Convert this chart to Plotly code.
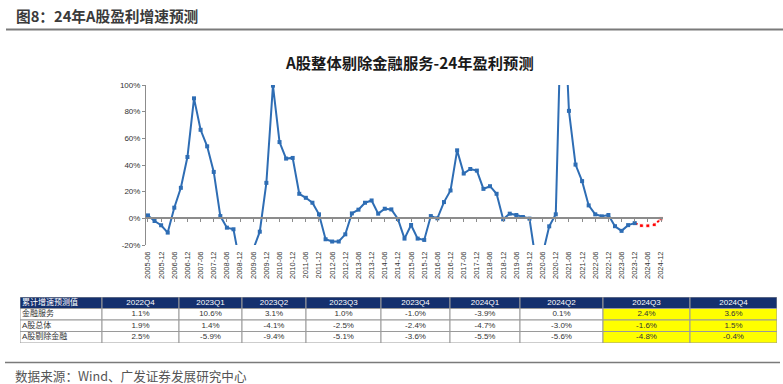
import plotly.graph_objects as go

# ---------------- data ----------------
dates = []
for y in range(2005, 2025):
    for m in ("03", "06", "09", "12"):
        d = f"{y}-{m}"
        if d >= "2005-06":
            dates.append(d)

# A股整体剔除金融服务 cumulative profit growth (%), actual through 2023-12
actual_values = [
    2.2, -2.0, -5.2, -10.7, 8.0, 22.9, 46.0, 90.0, 66.4, 54.0, 34.8, 1.7,
    -7.0, -8.2, -34.4, -40.0, -23.3, -10.0, 26.6, 99.5, 57.2, 44.8, 45.3, 18.4,
    15.4, 11.7, 3.0, -15.7, -17.4, -17.4, -12.0, 3.7, 6.5, 11.7, 13.4, 3.5,
    7.2, 6.7, -0.5, -15.2, -5.0, -15.2, -16.2, 1.7, 0.0, 12.2, 20.9, 51.0,
    33.6, 37.0, 35.8, 22.1, 24.1, 18.4, -0.7, 3.5, 2.5, 1.0, -0.2, -33.0,
    -27.0, -6.0, 3.0, 190.0, 80.6, 40.3, 27.9, 9.7, 3.0, 1.5, 2.5, -5.9,
    -9.4, -5.1, -3.6,
]
# forecast 2024-03 .. 2024-12
forecast_values = [-5.5, -5.6, -4.8, -0.4]

y_ticks = [-20, 0, 20, 40, 60, 80, 100]

table_header = ["累计增速预测值", "2022Q4", "2023Q1", "2023Q2", "2023Q3", "2023Q4",
                "2024Q1", "2024Q2", "2024Q3", "2024Q4"]
row_labels = ["金融服务", "A股总体", "A股剔除金融"]
fin_services = ["1.1%", "10.6%", "3.1%", "1.0%", "-1.0%", "-3.9%", "0.1%", "2.4%", "3.6%"]
a_total = ["1.9%", "1.4%", "-4.1%", "-2.5%", "-2.4%", "-4.7%", "-3.0%", "-1.6%", "1.5%"]
a_ex_fin = ["2.5%", "-5.9%", "-9.4%", "-5.1%", "-3.6%", "-5.5%", "-5.6%", "-4.8%", "-0.4%"]
forecast_cols = ["2024Q3", "2024Q4"]

# ---------------- layout helpers ----------------
W, H = 783, 384
def px(x):
    return x / W
def py(y):
    return (H - y) / H

x_idx = list(range(len(dates)))
n_act = len(actual_values)

BLUE = "#2E6DB4"
RED = "#FF0000"
FONT_LAT = "Arial, 'Liberation Sans', 'Noto Sans CJK SC', sans-serif"
FONT_CJK = "'Noto Sans CJK SC', sans-serif"

fig = go.Figure()

fig.add_trace(go.Scatter(
    x=x_idx[n_act - 1:], y=[actual_values[-1]] + forecast_values,
    mode="lines+markers",
    line=dict(color=RED, width=2, dash="dot"),
    marker=dict(symbol="square", size=[0] + [4] * len(forecast_values), color=RED),
    hoverinfo="skip",
))
fig.add_trace(go.Scatter(
    x=x_idx[:n_act], y=actual_values,
    mode="lines+markers",
    line=dict(color=BLUE, width=2),
    marker=dict(symbol="square", size=4, color=BLUE),
    hoverinfo="skip",
))
# invisible trace to hold the zero-line axis
fig.add_trace(go.Scatter(x=[x_idx[0]], y=[0], xaxis="x2", mode="markers",
                         marker=dict(size=0, opacity=0), hoverinfo="skip"))

y_dom = [139 / H, 299 / H]
zero_pos = y_dom[0] + (0 - y_ticks[0]) / (y_ticks[-1] - y_ticks[0]) * (y_dom[1] - y_dom[0])
x_rng = [-0.3, len(dates) - 1 + 0.3]

# ---------------- table (own axes x3/y3: x in px units, y in rows) ----------------
col_widths = [82, 77, 63, 64, 75, 69, 70, 83, 87, 87]
edges = [0]
for w_ in col_widths:
    edges.append(edges[-1] + w_)
n_rows = 1 + len(row_labels)
body_cols = [[fin_services[i], a_total[i], a_ex_fin[i]] for i in range(len(fin_services))]

GRID = "#9a9a9a"
NAVY = "#14306E"
for c in range(len(table_header)):
    for r in range(n_rows):
        if r == 0:
            fill = NAVY
        elif table_header[c] in forecast_cols:
            fill = "#FFFF00"
        else:
            fill = "white"
        fig.add_shape(type="rect", xref="x3", yref="y3",
                      x0=edges[c], x1=edges[c + 1], y0=r, y1=r + 1,
                      fillcolor=fill, line=dict(color=GRID, width=1), layer="below")

# centered texts
cx, cy, ct, cc = [], [], [], []
for c in range(1, len(table_header)):
    mid = (edges[c] + edges[c + 1]) / 2
    cx.append(mid); cy.append(0.5); ct.append(table_header[c]); cc.append("white")
    for r, v in enumerate(body_cols[c - 1]):
        cx.append(mid); cy.append(r + 1.5); ct.append(v); cc.append("#333333")
fig.add_trace(go.Scatter(x=cx, y=cy, text=ct, mode="text", xaxis="x3", yaxis="y3",
                         textposition="middle center", cliponaxis=False,
                         textfont=dict(size=8, color=cc, family=FONT_LAT), hoverinfo="skip"))
lx = [edges[0] + 2] * n_rows
ly = [r + 0.5 for r in range(n_rows)]
lt = [table_header[0]] + row_labels
lc = ["white"] + ["#333333"] * len(row_labels)
fig.add_trace(go.Scatter(x=lx, y=ly, text=lt, mode="text", xaxis="x3", yaxis="y3",
                         textposition="middle right", cliponaxis=False,
                         textfont=dict(size=8, color=lc, family=FONT_LAT), hoverinfo="skip"))

fig.update_layout(
    width=W, height=H,
    margin=dict(l=0, r=0, t=0, b=0),
    paper_bgcolor="white", plot_bgcolor="white",
    showlegend=False,
    xaxis=dict(domain=[px(146), px(663)], range=x_rng, anchor="y",
               tickmode="array", tickvals=x_idx[::2], ticktext=dates[::2],
               tickangle=-90, tickfont=dict(size=7.5, color="#333333", family=FONT_LAT),
               showgrid=False, showline=False, zeroline=False, ticks="",
               automargin=False, ticklabelstandoff=4),
    xaxis2=dict(domain=[px(146), px(663)], range=x_rng, overlaying="x",
                anchor="free", position=zero_pos,
                tickmode="array", tickvals=x_idx[::2], showticklabels=False,
                showline=True, linecolor="#8c8c8c", linewidth=2,
                ticks="outside", ticklen=3, tickcolor="#8c8c8c", tickwidth=1,
                showgrid=False, zeroline=False, automargin=False),
    yaxis=dict(domain=y_dom, range=[y_ticks[0], y_ticks[-1]],
               tickmode="array", tickvals=y_ticks, ticktext=[f"{v}%" for v in y_ticks],
               tickfont=dict(size=8, color="#333333", family=FONT_LAT),
               showline=True, linecolor="#8c8c8c", linewidth=1,
               ticks="outside", ticklen=3, tickcolor="#8c8c8c",
               showgrid=False, zeroline=False, automargin=False),
    xaxis3=dict(domain=[px(20), px(777)], range=[0, edges[-1]], anchor="y3",
                visible=False, fixedrange=True),
    yaxis3=dict(domain=[py(343), py(297)], range=[n_rows, 0], anchor="x3",
                visible=False, fixedrange=True),
)

fig.add_shape(type="line", xref="paper", yref="paper", x0=px(6), x1=px(783), y0=py(29.5), y1=py(29.5),
              line=dict(color="#7a7a7a", width=2))
fig.add_shape(type="line", xref="paper", yref="paper", x0=px(5), x1=px(780), y0=py(362.5), y1=py(362.5),
              line=dict(color="#7a7a7a", width=1.5))

fig.add_annotation(xref="paper", yref="paper", x=px(14), y=py(15), xanchor="left", yanchor="middle",
                   text="<b>图8：24年A股盈利增速预测</b>", showarrow=False,
                   font=dict(size=14.7, color="#3a3a3a", family=FONT_CJK))
fig.add_annotation(xref="paper", yref="paper", x=px(409), y=py(62), xanchor="center", yanchor="middle",
                   text="<b>A股整体剔除金融服务-24年盈利预测</b>", showarrow=False,
                   font=dict(size=15.3, color="#1a1a1a", family=FONT_CJK))
fig.add_annotation(xref="paper", yref="paper", x=px(13), y=py(375), xanchor="left", yanchor="middle",
                   text="数据来源：Wind、广发证券发展研究中心", showarrow=False,
                   font=dict(size=12.6, color="#555555", family=FONT_CJK))

fig.write_html("out.html", config={"displayModeBar": False},
               post_script="document.body.style.margin='0px';")
